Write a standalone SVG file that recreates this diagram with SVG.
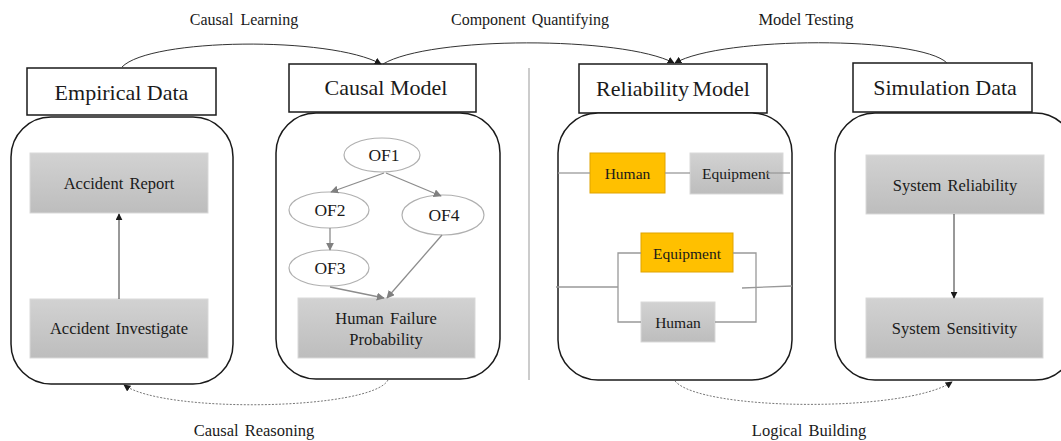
<svg xmlns="http://www.w3.org/2000/svg" width="1061" height="441" viewBox="0 0 1061 441">
<defs>
<style>
.t{font-family:"Liberation Serif","Times New Roman",serif;fill:#1a1a1a;text-anchor:middle}
.hd{fill:#fff;stroke:#1a1a1a;stroke-width:1.5}
.ct{fill:#fff;stroke:#1a1a1a;stroke-width:1.5}
.gb{fill:url(#gg);stroke:#d9d9d9;stroke-width:1}
.ob{fill:#ffc000;stroke:#e0a300;stroke-width:1}
.el{fill:#fff;stroke:#b0b0b0;stroke-width:1.2}
.gl{fill:none;stroke:#8c8c8c;stroke-width:1.3}
.bl{fill:none;stroke:#333;stroke-width:1}
.ds{fill:none;stroke:#777;stroke-width:1;stroke-dasharray:2,1.5}
</style>
<linearGradient id="gg" x1="0" y1="0" x2="0" y2="1">
<stop offset="0" stop-color="#d2d2d2"/>
<stop offset="1" stop-color="#bdbdbd"/>
</linearGradient>
<marker id="ab" viewBox="0 0 10 10" refX="9" refY="5" markerWidth="7" markerHeight="7" orient="auto-start-reverse" markerUnits="userSpaceOnUse">
<path d="M0,0 L10,5 L0,10 z" fill="#1a1a1a"/>
</marker>
<marker id="ag" viewBox="0 0 10 10" refX="9" refY="5" markerWidth="8" markerHeight="8" orient="auto" markerUnits="userSpaceOnUse">
<path d="M0,0 L10,5 L0,10 z" fill="#808080"/>
</marker>
</defs>
<rect width="1061" height="441" fill="#fff"/>

<!-- divider -->
<line x1="529" y1="68" x2="529" y2="380" stroke="#999" stroke-width="1"/>

<!-- Empirical Data -->
<g id="empirical">
<rect class="hd" x="27" y="68" width="189" height="47"/>
<text class="t" x="121.5" y="100" font-size="22">Empirical Data</text>
<rect class="ct" x="11" y="117" width="222" height="267" rx="40"/>
<g id="accident-report"><rect class="gb" x="30" y="153" width="178" height="60"/>
<text class="t" x="119" y="189" font-size="16.5" word-spacing="2">Accident Report</text></g>
<g id="accident-investigate"><rect class="gb" x="30" y="299" width="178" height="59"/>
<text class="t" x="119" y="334" font-size="16.5" word-spacing="2">Accident Investigate</text></g>
</g>

<!-- Causal Model -->
<g id="causal">
<rect class="hd" x="289" y="64" width="187" height="48"/>
<text class="t" x="386" y="95" font-size="22">Causal Model</text>
<rect class="ct" x="276" y="113" width="224" height="266" rx="40"/>
<g id="of1"><ellipse class="el" cx="382" cy="155" rx="38" ry="17"/><text class="t" x="384" y="161" font-size="17.5">OF1</text></g>
<g id="of2"><ellipse class="el" cx="329" cy="210" rx="40" ry="18"/><text class="t" x="330" y="216" font-size="17.5">OF2</text></g>
<g id="of4"><ellipse class="el" cx="443" cy="215" rx="41" ry="20"/><text class="t" x="444" y="221" font-size="17.5">OF4</text></g>
<g id="of3"><ellipse class="el" cx="329" cy="268" rx="40" ry="18"/><text class="t" x="330" y="274" font-size="17.5">OF3</text></g>
<g id="hfp"><rect class="gb" x="298" y="298" width="177" height="60"/>
<text class="t" x="386" y="324" font-size="16.5" word-spacing="2">Human Failure</text>
<text class="t" x="386" y="345" font-size="16.5">Probability</text></g>
</g>

<!-- Reliability Model -->
<g id="reliability">
<rect class="hd" x="579" y="64" width="188" height="49"/>
<text class="t" x="673" y="96" font-size="22" word-spacing="-2">Reliability Model</text>
<rect class="ct" x="558" y="113" width="234" height="267" rx="40"/>
<g id="r-human1"><rect class="ob" x="590" y="153" width="75" height="40"/><text class="t" x="627.5" y="179" font-size="15.5">Human</text></g>
<g id="r-equip1"><rect class="gb" x="690" y="153" width="93" height="41"/><text class="t" x="736" y="179" font-size="15.5">Equipment</text></g>
<g id="r-equip2"><rect class="ob" x="641" y="233" width="92" height="39"/><text class="t" x="687" y="259" font-size="15.5">Equipment</text></g>
<g id="r-human2"><rect class="gb" x="641" y="302" width="74" height="40"/><text class="t" x="678" y="328" font-size="15.5">Human</text></g>
<g fill="none" stroke="#999" stroke-width="1.3">
<line x1="558" y1="173" x2="590" y2="173"/>
<line x1="665" y1="173" x2="690" y2="173"/>
<line x1="767" y1="173" x2="790" y2="173"/>
<polyline points="641,253 618,253 618,322 641,322"/>
<line x1="556" y1="287" x2="618" y2="287"/>
<polyline points="733,253 756,253 756,322 715,322"/>
<line x1="742" y1="288" x2="792" y2="286"/>
</g>
</g>

<!-- Simulation Data -->
<g id="simulation">
<rect class="hd" x="853" y="63" width="179" height="49"/>
<text class="t" x="945" y="95" font-size="22">Simulation Data</text>
<rect class="ct" x="835" y="113" width="240" height="267" rx="40"/>
<g id="sys-rel"><rect class="gb" x="866" y="155" width="178" height="59"/>
<text class="t" x="955" y="191" font-size="16.5" word-spacing="2">System Reliability</text></g>
<g id="sys-sens"><rect class="gb" x="866" y="298" width="177" height="60"/>
<text class="t" x="954.5" y="334" font-size="16.5" word-spacing="2">System Sensitivity</text></g>
</g>

<!-- connectors -->
<g id="connectors">
<line class="bl" x1="119" y1="299" x2="119" y2="214" marker-end="url(#ab)"/>
<line class="bl" x1="954" y1="214" x2="954" y2="298" marker-end="url(#ab)"/>
<line class="gl" x1="384" y1="173" x2="331" y2="192" marker-end="url(#ag)"/>
<line class="gl" x1="386" y1="173" x2="441" y2="196" marker-end="url(#ag)"/>
<line class="gl" x1="330" y1="228" x2="330" y2="250" marker-end="url(#ag)"/>
<line class="gl" x1="330" y1="287" x2="384" y2="298" marker-end="url(#ag)"/>
<line class="gl" x1="442" y1="235" x2="387" y2="298" marker-end="url(#ag)"/>
<path class="bl" d="M122,67 C150,38 330,36 381,64" marker-end="url(#ab)"/>
<path class="bl" d="M383,64 C430,36 622,36 674,63" marker-end="url(#ab)"/>
<path class="bl" d="M947,63 C920,36 722,36 675,63" marker-end="url(#ab)"/>
<path class="ds" d="M388,380 C372,410 165,414 124,385" marker-end="url(#ab)"/>
<path class="ds" d="M675,381 C700,411 905,413 952,382" marker-end="url(#ab)"/>
</g>

<!-- labels -->
<text class="t" x="244" y="25" font-size="16" word-spacing="3">Causal Learning</text>
<text class="t" x="530" y="25" font-size="16" word-spacing="2">Component Quantifying</text>
<text class="t" x="806" y="25" font-size="16.5">Model Testing</text>
<text class="t" x="254" y="436" font-size="16.5" word-spacing="2">Causal Reasoning</text>
<text class="t" x="809" y="436" font-size="16.5" word-spacing="2">Logical Building</text>
</svg>
